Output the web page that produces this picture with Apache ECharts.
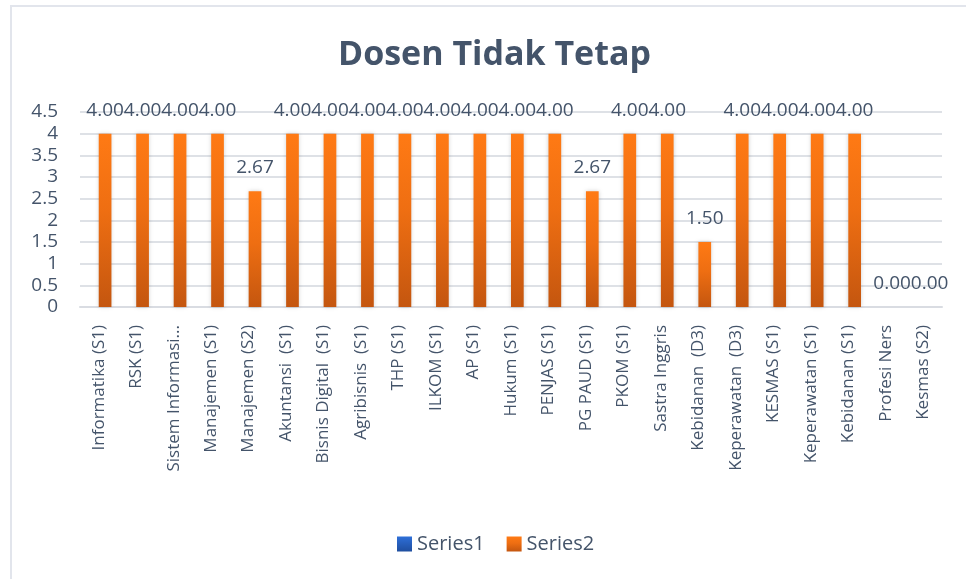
<!DOCTYPE html>
<html>
<head>
<meta charset="utf-8">
<script src="https://cdn.jsdelivr.net/npm/echarts@6/dist/echarts.min.js"></script>
<style>
  html, body { margin: 0; padding: 0; background: #fff; }
  #main { width: 966px; height: 579px; }
</style>
</head>
<body>
<div id="main"></div>
<script>
var categories = ['Informatika (S1)', 'RSK (S1)', 'Sistem Informasi...', 'Manajemen (S1)', 'Manajemen (S2)',
    'Akuntansi  (S1)', 'Bisnis Digital  (S1)', 'Agribisnis  (S1)', 'THP (S1)', 'ILKOM (S1)', 'AP (S1)',
    'Hukum (S1)', 'PENJAS (S1)', 'PG PAUD (S1)', 'PKOM (S1)', 'Sastra Inggris', 'Kebidanan  (D3)',
    'Keperawatan  (D3)', 'KESMAS (S1)', 'Keperawatan (S1)', 'Kebidanan (S1)', 'Profesi Ners', 'Kesmas (S2)'];
var series1 = [0, 0, 0, 0, 0, 0, 0, 0, 0, 0, 0, 0, 0, 0, 0, 0, 0, 0, 0, 0, 0, 0, 0];
var series2 = [4, 4, 4, 4, 2.67, 4, 4, 4, 4, 4, 4, 4, 4, 2.67, 4, 4, 1.5, 4, 4, 4, 4, 0, 0];
var yTicks = [0, 0.5, 1, 1.5, 2, 2.5, 3, 3.5, 4, 4.5];

var textColor = '#44546A';
var font = '"Open Sans", sans-serif';

var chart = echarts.init(document.getElementById('main'));
var option = {
    backgroundColor: '#fff',
    animation: false,
    title: {
        text: 'Dosen Tidak Tetap',
        left: 333,
        top: 33,
        textStyle: { color: textColor, fontSize: 34, fontWeight: 'bold', fontFamily: font }
    },
    graphic: [{
        type: 'rect',
        shape: { x: 11, y: 6, width: 1000, height: 700 },
        style: { fill: 'none', stroke: '#E2E5EC', lineWidth: 2 },
        silent: true
    }],
    legend: {
        bottom: 20,
        left: 392,
        itemWidth: 15,
        itemHeight: 15,
        itemGap: 22,
        icon: 'rect',
        textStyle: { color: textColor, fontSize: 20, fontFamily: font },
        data: ['Series1', 'Series2']
    },
    grid: { left: 80, right: 24, top: 112, bottom: 272 },
    xAxis: {
        type: 'category',
        data: categories,
        axisLine: { lineStyle: { color: '#D9DCE2', width: 2 } },
        axisTick: { show: false },
        axisLabel: {
            rotate: 90,
            interval: 0,
            margin: 18,
            color: textColor,
            fontSize: 17,
            fontFamily: font
        }
    },
    yAxis: {
        type: 'value',
        min: 0,
        max: 4.5,
        interval: 0.5,
        axisLine: { show: false },
        axisTick: { show: false },
        splitLine: { lineStyle: { color: '#DEE1E6', width: 2 } },
        axisLabel: {
            margin: 22,
            color: textColor,
            fontSize: 19,
            fontFamily: font,
            formatter: function (v) { return yTicks.indexOf(v) >= 0 ? String(v) : ''; }
        }
    },
    series: [
        {
            name: 'Series1',
            type: 'bar',
            data: series1,
            barWidth: 12.7,
            barGap: '0%',
            itemStyle: {
                color: new echarts.graphic.LinearGradient(0, 0, 0, 1, [
                    { offset: 0, color: '#2E6FD8' },
                    { offset: 1, color: '#1F4E9F' }
                ])
            }
        },
        {
            name: 'Series2',
            type: 'bar',
            data: series2,
            barWidth: 12.7,
            itemStyle: {
                color: new echarts.graphic.LinearGradient(0, 0, 0, 1, [
                    { offset: 0, color: '#FF7A14' },
                    { offset: 0.45, color: '#EE6E12' },
                    { offset: 1, color: '#C4560F' }
                ]),
                shadowBlur: 4,
                shadowColor: 'rgba(0,0,0,0.18)'
            },
            label: {
                show: true,
                position: 'top',
                distance: 14,
                color: textColor,
                fontSize: 19,
                fontFamily: font,
                formatter: function (p) { return p.value.toFixed(2); }
            }
        }
    ]
};
chart.setOption(option);
</script>
</body>
</html>
